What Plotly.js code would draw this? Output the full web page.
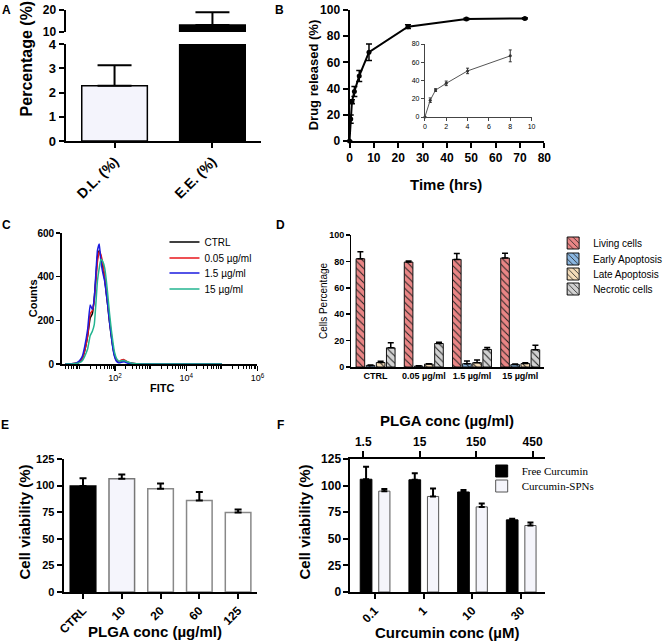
<!DOCTYPE html>
<html>
<head>
<meta charset="utf-8">
<script src="https://cdn.plot.ly/plotly-3.0.1.min.js"></script>
<style>
  html, body { margin: 0; padding: 0; background: #fff; }
  #plotArea { width: 667px; height: 643px; }
</style>
</head>
<body>
<div id="plotArea"></div>
<script>
// A - drug loading / encapsulation
var loadLabels = ["D.L. (%)", "E.E. (%)"];
var loadValues = [2.28, 13.2];
var loadErrors = [0.84, 5.8];

// B - release curve and its first 8 h (inset)
var releaseTime = [0, 0.5, 1, 2, 4, 8, 24, 48, 72];
var releasePct = [0, 16.7, 30, 37.8, 49.7, 67.8, 87.3, 93.1, 93.6];
var releaseErr = [0, 3.2, 1.5, 3.8, 4.2, 6.3, 1.5, 0.6, 0.5];
var insetTime = [0, 0.5, 1, 2, 4, 8];
var insetPct = [0, 18.4, 29.5, 36.9, 50.5, 67];
var insetErr = [0, 2.5, 1.5, 2.5, 3, 6.5];

// C - FITC histogram
var fitcBins = [4, 6, 8, 10, 12, 14, 17, 20, 23, 26, 29, 32, 36, 40, 45, 51, 57, 63, 70, 78, 87, 96, 107, 118, 132, 150, 180, 220, 290, 400, 540, 1000, 10000, 100000];
var countsCtrl = [0, 1, 3, 10, 25, 60, 130, 210, 230, 300, 400, 490, 520, 490, 450, 390, 320, 260, 190, 130, 75, 40, 20, 12, 10, 14, 15, 8, 3, 1, 0, 0, 0, 0];
var counts005 = [0, 1, 3, 10, 25, 60, 130, 230, 245, 290, 380, 470, 515, 500, 460, 400, 330, 270, 200, 140, 80, 45, 22, 15, 12, 18, 20, 10, 3, 1, 0, 0, 0, 0];
var counts15 = [0, 1, 4, 15, 35, 80, 160, 270, 250, 300, 420, 520, 550, 470, 420, 380, 320, 260, 190, 130, 70, 35, 15, 8, 6, 8, 10, 5, 2, 1, 0, 0, 0, 0];
var counts150 = [0, 0, 2, 6, 15, 35, 70, 130, 150, 180, 280, 380, 440, 480, 470, 440, 380, 310, 230, 160, 100, 55, 30, 18, 12, 15, 16, 10, 4, 1, 0, 0, 0, 0];

// D - apoptosis
var doseGroups = ["CTRL", "0.05 µg/ml", "1.5 µg/ml", "15 µg/ml"];
var living = [82, 79.5, 81.5, 82.6];
var livingErr = [5.4, 0.8, 4.4, 3.5];
var early = [1.2, 0.7, 2.5, 1.8];
var earlyErr = [0.3, 0.2, 2, 0.5];
var late = [3.4, 2.2, 3.3, 2.6];
var lateErr = [1, 0.3, 2, 0.7];
var necrotic = [14.5, 17.8, 13.3, 13.1];
var necroticErr = [3.9, 1, 1.5, 3.3];

// E - PLGA viability
var plgaLabels = ["CTRL", "10", "20", "60", "125"];
var plgaViability = [99.6, 106.5, 97, 86, 74.7];
var plgaErr = [7.2, 4, 5, 8, 2.9];

// F - curcumin viability
var curcuminConc = ["0.1", "1", "10", "30"];
var plgaConcTop = ["1.5", "15", "150", "450"];
var freeCurcumin = [106, 105.5, 94, 67.8];
var freeErr = [11.7, 6, 1.8, 1];
var spnCurcumin = [94.8, 89.8, 80, 62.5];
var spnErr = [1.9, 7.5, 3.2, 2.8];

var W = 667, H = 643;
function xd(a, b) { return [a / W, b / W]; }
function yd(top, bottom) { return [1 - bottom / H, 1 - top / H]; }
function zeros(arr) { return arr.map(function () { return 0; }); }

var FONT = "Liberation Sans, Arial, sans-serif";
var SERIF = "Liberation Serif, Times New Roman, serif";
function bold(size) { return {family: FONT, size: size, color: "#000", weight: 700}; }
function plain(size) { return {family: FONT, size: size, color: "#000"}; }

function axis(extra) {
    var base = {
        showline: true, linecolor: "#000", linewidth: 2,
        ticks: "outside", ticklen: 5, tickwidth: 2, tickcolor: "#000",
        showgrid: false, zeroline: false, automargin: false, fixedrange: true
    };
    return Object.assign(base, extra);
}

function upErr(arr, w, thick) {
    return {type: "data", symmetric: false, array: arr, arrayminus: zeros(arr),
        color: "#000", thickness: thick || 1.5, width: w};
}

var data = [];

// ---- A (broken y axis: two stacked y axes on one x)
data.push({
    type: "bar", x: loadLabels, y: loadValues, xaxis: "x", yaxis: "y",
    width: 0.67, marker: {color: ["#f4f4fc", "#000"], line: {color: "#000", width: 1.5}},
    error_y: upErr([loadErrors[0], 0], 17, 2), showlegend: false, hoverinfo: "skip"
});
data.push({
    type: "bar", x: loadLabels, y: loadValues, xaxis: "x", yaxis: "y2",
    width: 0.67, marker: {color: ["#f4f4fc", "#000"], line: {color: "#000", width: 1.5}},
    error_y: upErr([0, loadErrors[1]], 17, 2), showlegend: false, hoverinfo: "skip"
});

// ---- B
data.push({
    type: "scatter", mode: "lines+markers", x: releaseTime, y: releasePct,
    xaxis: "x2", yaxis: "y3", cliponaxis: false,
    line: {color: "#000", width: 2}, marker: {color: "#000", size: 5},
    error_y: {type: "data", array: releaseErr, color: "#000", thickness: 1.5, width: 3},
    showlegend: false, hoverinfo: "skip"
});
data.push({
    type: "scatter", mode: "lines+markers", x: insetTime, y: insetPct,
    xaxis: "x3", yaxis: "y4", cliponaxis: false,
    line: {color: "#555", width: 1}, marker: {color: "#333", size: 3},
    error_y: {type: "data", array: insetErr, color: "#333", thickness: 1, width: 1.5},
    showlegend: false, hoverinfo: "skip"
});

// ---- C (one small legend per line so the rows sit tight like the original)
var histSeries = [
    {name: "CTRL", y: countsCtrl, color: "#000", legend: "legend", row: 242},
    {name: "0.05 µg/ml", y: counts005, color: "#e8161b", legend: "legend2", row: 258},
    {name: "1.5 µg/ml", y: counts15, color: "#1a1adf", legend: "legend3", row: 273},
    {name: "15 µg/ml", y: counts150, color: "#23b591", legend: "legend4", row: 289}
];
histSeries.forEach(function (s) {
    data.push({
        type: "scatter", mode: "lines", x: fitcBins, y: s.y, name: s.name,
        xaxis: "x4", yaxis: "y5", line: {color: s.color, width: 1.5, shape: "spline", smoothing: 0.4},
        legend: s.legend, hoverinfo: "skip"
    });
});

// ---- D
var apoSeries = [
    {name: "Living cells", y: living, err: livingErr, color: "#e98585", legend: "legend5", row: 243},
    {name: "Early Apoptosis", y: early, err: earlyErr, color: "#8ab6e0", legend: "legend6", row: 259},
    {name: "Late Apoptosis", y: late, err: lateErr, color: "#f4dcb8", legend: "legend7", row: 274},
    {name: "Necrotic cells", y: necrotic, err: necroticErr, color: "#d2d2d2", legend: "legend8", row: 289}
];
apoSeries.forEach(function (s) {
    data.push({
        type: "bar", x: doseGroups, y: s.y, name: s.name, xaxis: "x5", yaxis: "y6",
        marker: {color: s.color, line: {color: "#111", width: 1},
            pattern: {shape: "\\", fgcolor: "#222", bgcolor: s.color, size: 5, solidity: 0.2}},
        error_y: upErr(s.err, 3, 1.5), legend: s.legend, hoverinfo: "skip"
    });
});

// ---- E
data.push({
    type: "bar", x: plgaLabels, y: plgaViability, xaxis: "x6", yaxis: "y7", width: 0.66,
    marker: {color: ["#000", "#f5f5fc", "#fff", "#fff", "#fff"],
        line: {color: ["#000", "#777", "#888", "#888", "#888"], width: 1.5}},
    error_y: upErr(plgaErr, 3.5, 2), showlegend: false, hoverinfo: "skip"
});

// ---- F
data.push({
    type: "bar", x: curcuminConc, y: freeCurcumin, name: "Free Curcumin",
    xaxis: "x7", yaxis: "y8", width: 0.24, offset: -0.3,
    marker: {color: "#000", line: {color: "#000", width: 1}},
    error_y: upErr(freeErr, 3, 2), legend: "legend9", hoverinfo: "skip"
});
data.push({
    type: "bar", x: curcuminConc, y: spnCurcumin, name: "Curcumin-SPNs",
    xaxis: "x7", yaxis: "y8", width: 0.23, offset: 0.08,
    marker: {color: "#f5f5fb", line: {color: "#555", width: 1}},
    error_y: upErr(spnErr, 3, 2), legend: "legend10", hoverinfo: "skip"
});
// keeps the top PLGA axis alive
data.push({
    type: "scatter", mode: "markers", x: plgaConcTop, y: freeCurcumin,
    xaxis: "x8", yaxis: "y8", marker: {opacity: 0, size: 1},
    showlegend: false, hoverinfo: "skip"
});

var layout = {
    width: W, height: H,
    margin: {l: 0, r: 0, t: 0, b: 0},
    paper_bgcolor: "#fff", plot_bgcolor: "rgba(0,0,0,0)",
    font: plain(11),
    barmode: "group", bargap: 0.16, bargroupgap: 0.15,
    hovermode: false,

    // A
    xaxis: axis({domain: xd(67, 267), anchor: "y", type: "category", tickangle: -45, tickfont: bold(14)}),
    yaxis: axis({domain: yd(44, 141), anchor: "x", range: [0, 4], dtick: 1, tickfont: bold(13)}),
    yaxis2: axis({domain: yd(10, 32), anchor: "x", range: [10, 20], tickvals: [10, 20], tickfont: bold(12)}),

    // B
    xaxis2: axis({domain: xd(357, 556), anchor: "y3", range: [0, 80], dtick: 10, tickfont: bold(12)}),
    yaxis3: axis({domain: yd(10, 141), anchor: "x2", range: [0, 100], dtick: 20, tickfont: bold(12)}),
    xaxis3: axis({domain: xd(434, 543), anchor: "y4", range: [0, 10], dtick: 2, tickfont: plain(7),
        linewidth: 1, linecolor: "#444", tickwidth: 1, tickcolor: "#444", ticklen: 3}),
    yaxis4: axis({domain: yd(44, 117), anchor: "x3", range: [0, 80], dtick: 20, tickfont: plain(7),
        linewidth: 1, linecolor: "#444", tickwidth: 1, tickcolor: "#444", ticklen: 3}),

    // C
    xaxis4: axis({domain: xd(63, 263), anchor: "y5", type: "log", range: [0.5, 6],
        tickvals: [100, 10000, 1000000], ticktext: ["10<sup>2</sup>", "10<sup>4</sup>", "10<sup>6</sup>"],
        tickfont: plain(9), linewidth: 1.5, tickwidth: 1.5, ticklen: 5,
        minor: {ticks: "outside", ticklen: 3, tickwidth: 1, tickcolor: "#000", dtick: "D1"}}),
    yaxis5: axis({domain: yd(233, 364), anchor: "x4", range: [0, 600], dtick: 200, tickfont: bold(10),
        linewidth: 1.5, tickwidth: 1.5, ticklen: 4}),

    // D
    xaxis5: axis({domain: xd(359, 556), anchor: "y6", type: "category", ticks: "", tickfont: bold(9), linewidth: 1.5}),
    yaxis6: axis({domain: yd(235, 367), anchor: "x5", range: [0, 100], dtick: 20, tickfont: bold(9),
        linewidth: 1.5, tickwidth: 1.5, ticklen: 4}),

    // E
    xaxis6: axis({domain: xd(65, 263), anchor: "y7", type: "category", tickangle: -45, tickfont: bold(12)}),
    yaxis7: axis({domain: yd(459, 592), anchor: "x6", range: [0, 125], dtick: 25, tickfont: bold(11)}),

    // F
    xaxis7: axis({domain: xd(358, 557), anchor: "y8", type: "category", tickangle: -45, tickfont: bold(12)}),
    xaxis8: axis({overlaying: "x7", side: "top", anchor: "y8", type: "category", tickfont: bold(12), ticklen: 6}),
    yaxis8: axis({domain: yd(459, 592), anchor: "x7", range: [0, 125], dtick: 25, tickfont: bold(12)})
};

// legends, one per item
function legendAt(x, row, font) {
    return {x: x / W, y: 1 - row / H, xanchor: "left", yanchor: "middle",
        bgcolor: "rgba(0,0,0,0)", font: font, itemwidth: 30};
}
histSeries.forEach(function (s) { layout[s.legend] = legendAt(168, s.row, plain(10)); });
apoSeries.forEach(function (s) { layout[s.legend] = legendAt(565, s.row, plain(10)); });
var serifFont = {family: SERIF, size: 11, color: "#000"};
layout.legend9 = legendAt(492, 471, serifFont);
layout.legend10 = legendAt(492, 486, serifFont);

// panel letters and axis titles
function note(text, x, y, font, angle) {
    return {text: text, x: x / W, y: 1 - y / H, xref: "paper", yref: "paper",
        xanchor: "center", yanchor: "middle", showarrow: false, font: font, textangle: angle || 0};
}
layout.annotations = [
    note("A", 7, 10, bold(12)),
    note("B", 285, 10, bold(12)),
    note("C", 7, 225, bold(12)),
    note("D", 287, 225, bold(12)),
    note("E", 5, 425, bold(12)),
    note("F", 287, 425, bold(12)),
    note("Percentage (%)", 28, 58, bold(16), -90),
    note("Drug released (%)", 320, 75, bold(13), -90),
    note("Time (hrs)", 456, 184, bold(15)),
    note("Counts", 34, 298, bold(11), -90),
    note("FITC", 165, 388, bold(11)),
    note("Cells Percentage", 330, 301, plain(10), -90),
    note("Cell viability (%)", 25, 522, bold(15), -90),
    note("PLGA conc (µg/ml)", 158, 631, bold(15)),
    note("Cell viability (%)", 311, 522, bold(15), -90),
    note("PLGA conc (µg/ml)", 457, 421, bold(15)),
    note("Curcumin conc (µM)", 457, 632, bold(15))
];

Plotly.newPlot("plotArea", data, layout, {displayModeBar: false, staticPlot: true});
</script>
</body>
</html>
